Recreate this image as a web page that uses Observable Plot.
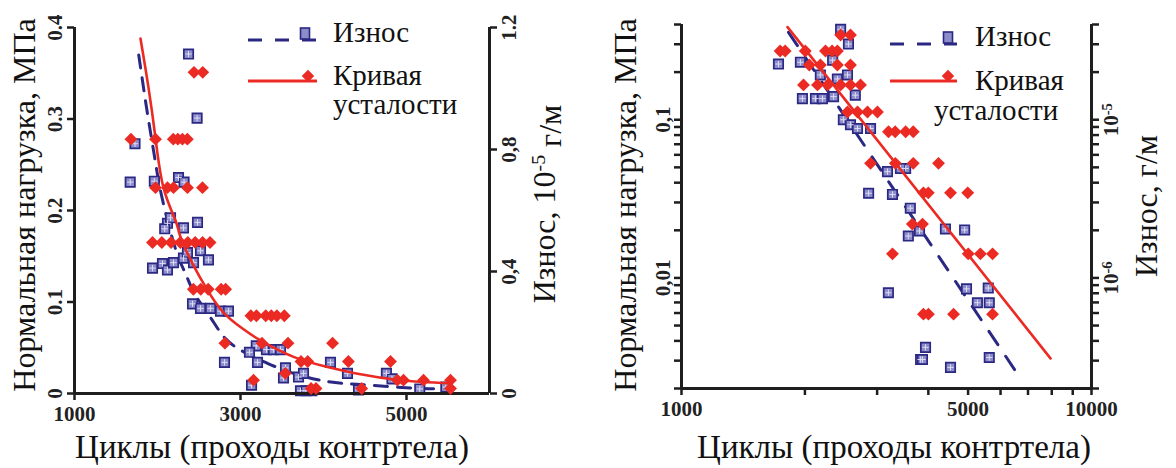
<!DOCTYPE html>
<html>
<head>
<meta charset="utf-8">
<script src="https://cdn.jsdelivr.net/npm/d3@7"></script>
<script src="https://cdn.jsdelivr.net/npm/@observablehq/plot@0.6"></script>
<style>
  html, body { margin: 0; padding: 0; background: #fff; }
  #wrap { position: relative; width: 1176px; height: 468px; overflow: hidden; font-family: "Liberation Serif", "DejaVu Serif", serif; }
  #wrap svg { position: absolute; top: 0; }
  #wrap g[aria-label$="tick label"] { font-family: "Liberation Serif", "DejaVu Serif", serif; font-size: 21px; font-weight: bold; fill: #222; }
  #wrap .leg text { font-family: "Liberation Serif", "DejaVu Serif", serif; fill: #111; }
  #wrap .leg text.lg { font-size: 29px; }
  #wrap .leg text.tt { font-size: 32px; }
  #wrap .leg text.tx { font-size: 33px; }
</style>
</head>
<body>
<div id="wrap"></div>
<script>
// ---------- texts ----------
const xTitle = "Циклы (проходы контртела)";
const yTitleLoad = "Нормальная нагрузка, МПа";
const yTitleWear1 = ["Износ, 10", "-5", " г/м"];   // "Износ, 10^-5 г/м"
const yTitleWear2 = "Износ, г/м";
const legendWear = "Износ";
const legendFatigue = ["Кривая", "усталости"];

// ---------- left panel (linear) ----------
const xDomain1 = [1000, 6000];
const xTicks1 = [1000, 3000, 5000];
const xTickLabels1 = ["1000", "3000", "5000"];
const yDomain1 = [0, 0.4];
const yTicks1 = [0, 0.1, 0.2, 0.3, 0.4];
const yTickLabels1 = ["0", "0.1", "0.2", "0.3", "0.4"];
const wDomain1 = [0, 1.2];
const wTicks1 = [0, 0.4, 0.8, 1.2];
const wTickLabels1 = ["0", "0,4", "0,8", "1.2"];

// fatigue points [cycles, MPa]
const fatigue1 = [
  [1680,0.278],[1976,0.278],[2190,0.278],[2245,0.278],[2300,0.278],[2360,0.278],
  [2440,0.351],[2545,0.351],
  [1976,0.225],[2120,0.225],[2193,0.225],[2361,0.225],[2542,0.225],
  [1940,0.165],[2052,0.165],[2163,0.165],[2275,0.165],[2365,0.165],[2454,0.165],[2543,0.165],[2633,0.165],
  [2432,0.114],[2521,0.114],[2611,0.114],[2767,0.114],[2821,0.114],
  [3125,0.085],[3192,0.085],[3304,0.085],[3371,0.085],[3438,0.085],[3528,0.085],
  [2812,0.055],[3259,0.055],[3572,0.055],[4109,0.055],
  [3540,0.022],[3157,0.0146],
  [3729,0.035],[3810,0.035],[4300,0.035],[4807,0.035],
  [3850,0.0055],[3910,0.0055],[4460,0.0055],[5530,0.0055],
  [4890,0.0146],[4964,0.0146],[5205,0.0146],[5530,0.0146]
];
// fatigue curve [cycles, MPa]
const fatigueCurve1 = [
  [1795,0.388],[1892,0.334],[1976,0.279],[2072,0.225],[2217,0.189],[2277,0.171],
  [2422,0.142],[2602,0.113],[2795,0.0885],[3024,0.071],[3241,0.058],[3639,0.040],
  [4048,0.029],[4446,0.021],[4928,0.0145],[5530,0.011]
];
// wear points [cycles, 10^-5 g/m]
const wear1 = [
  [1671,0.693],[1729,0.819],[2374,1.113],[2477,0.903],
  [1940,0.411],[2060,0.426],[2120,0.405],[2193,0.429],
  [2120,0.558],[2157,0.576],[2087,0.540],[2313,0.543],[2482,0.561],
  [2253,0.708],[2320,0.693],[1962,0.696],
  [2313,0.444],[2361,0.462],[2434,0.429],[2518,0.468],[2614,0.438],
  [2422,0.294],[2518,0.279],[2639,0.279],[2759,0.270],[2855,0.270],
  [2807,0.102],[3133,0.027],[3205,0.102],[3190,0.156],[3108,0.135],
  [3313,0.144],[3398,0.144],[3482,0.144],
  [3542,0.084],[3518,0.051],[3699,0.054],[3759,0.066],
  [3723,0.009],[3790,0.009],[3860,0.009],
  [4084,0.102],[4289,0.066],[4422,0.012],[4758,0.066],[4825,0.048],
  [5160,0.015],[5474,0.021]
];
// wear trend [cycles, 10^-5 g/m]
const wearTrend1 = [
  [1774,1.11],[1872,0.93],[1962,0.78],[2052,0.645],[2217,0.474],[2337,0.393],
  [2454,0.324],[2639,0.249],[2819,0.18],[3050,0.135],[3325,0.099],[3639,0.066],
  [4048,0.039],[4400,0.03],[4800,0.0225],[5200,0.0165],[5496,0.015]
];

// ---------- right panel (log-log) ----------
const xDomain2 = [1000, 10000];
const xTicks2 = [1000,2000,3000,4000,5000,6000,7000,8000,9000,10000];
const xTickLabels2 = ["1000","","","","5000","","","","","10000"];
const yDomain2 = [0.002, 0.4];
const yTicks2 = [0.002,0.003,0.004,0.005,0.006,0.007,0.008,0.009,0.01,0.02,0.03,0.04,0.05,0.06,0.07,0.08,0.09,0.1,0.2,0.3,0.4];
const yTickLabels2 = ["","","","","","","","","0,01","","","","","","","","","0,1","","",""];
const wDomain2 = [2e-7, 4e-5];
const wTicks2 = [2e-7,3e-7,4e-7,5e-7,6e-7,7e-7,8e-7,9e-7,1e-6,2e-6,3e-6,4e-6,5e-6,6e-6,7e-6,8e-6,9e-6,1e-5,2e-5,3e-5,4e-5];
const wTickLabels2 = ["","","","","","","","","10^-6","","","","","","","","","10^-5","","",""];

// fatigue points [cycles, MPa]
const fatigue2 = [
  [1740,0.272],[1790,0.272],[2004,0.272],[2245,0.272],[2330,0.272],[2400,0.272],
  [2444,0.343],[2583,0.343],
  [2050,0.222],[2182,0.222],[2400,0.222],[2583,0.222],
  [1984,0.166],[2146,0.166],[2272,0.166],[2444,0.166],[2583,0.166],[2733,0.166],
  [2540,0.112],[2687,0.112],[2842,0.112],[3005,0.112],
  [3198,0.084],[3320,0.084],[3521,0.084],[3675,0.084],
  [2891,0.053],[3323,0.053],[3675,0.053],[4235,0.053],
  [3891,0.0345],[3999,0.0345],[4530,0.0345],[4990,0.0345],
  [3656,0.0219],[3871,0.0219],
  [3270,0.0142],[5004,0.0142],[5358,0.0142],[5736,0.0142],
  [3891,0.0059],[4002,0.0059],[4608,0.0059],[5736,0.0059]
];
const fatigueLine2 = [[1814,0.385],[7943,0.0031]];
// wear points [cycles, g/m]
const wear2 = [
  [1724,2.25e-5],[1950,2.31e-5],[1972,1.36e-5],[2122,1.36e-5],[2181,1.92e-5],[2207,1.36e-5],
  [2337,2.38e-5],[2349,1.40e-5],[2400,1.81e-5],[2540,1.92e-5],[2444,3.73e-5],[2554,3.01e-5],
  [2654,1.43e-5],[2482,1.0e-5],[2583,9.3e-6],[2687,8.8e-6],[2891,8.8e-6],
  [2860,3.43e-6],[3270,3.37e-6],[3521,4.92e-6],[3420,4.92e-6],[3180,4.7e-6],[3615,2.76e-6],
  [3806,1.98e-6],[3575,1.84e-6],[4403,2.04e-6],[4904,2.01e-6],
  [3196,8.06e-7],[4956,8.53e-7],[5269,6.97e-7],[5600,8.63e-7],[5632,6.97e-7],
  [3937,3.64e-7],[3830,3.05e-7],[3870,3.05e-7],[4530,2.72e-7],[5632,3.14e-7]
];
const wearLine2 = [[1824,3.57e-5],[6637,2.42e-7]];

// ---------- styles ----------
const RED = "#ec2a24", NAVY = "#2b2883", SQFILL = "#8d8ccb", AX = "#1e1e1e";
const baseStyle = {background: "transparent", overflow: "visible", fontFamily: "Liberation Serif"};
const X = d => d[0], Y = d => d[1];
const lab = (ticks, labels) => { const m = new Map(ticks.map((t, i) => [t, labels[i]])); return d => m.get(d) ?? ""; };
const squares = data => [
  Plot.dot(data, {x: X, y: Y, symbol: "square", r: 5.3, fill: SQFILL, stroke: NAVY, strokeWidth: 1.7}),
  Plot.dot(data, {x: X, y: Y, symbol: "plus", r: 2.2, stroke: "#dcdcf3", strokeWidth: 1})
];
const diamonds = data => Plot.dot(data, {x: X, y: Y, symbol: "diamond2", r: 5.8, fill: RED});

const wrap = document.getElementById("wrap");
function place(svg, left) { svg.style.left = left + "px"; svg.style.top = "0px"; wrap.appendChild(svg); }

// ===== LEFT PANEL =====
const L = {width: 580, height: 468, marginLeft: 74, marginRight: 91, marginTop: 27, marginBottom: 75};

const p1w = Plot.plot({
  ...L, style: baseStyle,
  x: {domain: xDomain1, axis: null},
  y: {domain: wDomain1},
  marks: [
    Plot.axisY({anchor: "right", ticks: wTicks1, tickFormat: lab(wTicks1, wTickLabels1), tickRotate: -90, lineAnchor: "top",
      tickSize: 7, tickPadding: 5, strokeWidth: 2.5, stroke: AX, label: null}),
    Plot.ruleX([xDomain1[1]], {stroke: AX, strokeWidth: 3}),
    Plot.line(wearTrend1, {x: X, y: Y, stroke: NAVY, strokeWidth: 3, strokeDasharray: "13 10", curve: "natural"}),
    ...squares(wear1)
  ]
});
place(p1w, 0);

const p1 = Plot.plot({
  ...L, style: baseStyle,
  x: {domain: xDomain1},
  y: {domain: yDomain1},
  marks: [
    Plot.axisX({ticks: xTicks1, tickFormat: lab(xTicks1, xTickLabels1), tickSize: 7, tickPadding: 6, strokeWidth: 2.5, stroke: AX, label: null}),
    Plot.axisY({ticks: yTicks1, tickFormat: lab(yTicks1, yTickLabels1), tickRotate: -90, lineAnchor: "bottom",
      tickSize: 7, tickPadding: 6, strokeWidth: 2.5, stroke: AX, label: null}),
    Plot.ruleX([xDomain1[0]], {stroke: AX, strokeWidth: 3}),
    Plot.ruleY([yDomain1[0]], {stroke: AX, strokeWidth: 3}),
    Plot.line(fatigueCurve1, {x: X, y: Y, stroke: RED, strokeWidth: 2.6, curve: "natural"}),
    diamonds(fatigue1)
  ]
});
place(p1, 0);

// ===== RIGHT PANEL =====
const R = {width: 596, height: 468, marginLeft: 101, marginRight: 85, marginTop: 24, marginBottom: 80};

const p2w = Plot.plot({
  ...R, style: baseStyle,
  x: {type: "log", domain: xDomain2, axis: null},
  y: {type: "log", domain: wDomain2},
  marks: [
    Plot.axisY({anchor: "right", ticks: wTicks2, tickFormat: lab(wTicks2, wTickLabels2), tickRotate: -90, lineAnchor: "top",
      tickSize: 7, tickPadding: 5, strokeWidth: 2.5, stroke: AX, label: null}),
    Plot.ruleX([xDomain2[1]], {stroke: AX, strokeWidth: 3}),
    Plot.line(wearLine2, {x: X, y: Y, stroke: NAVY, strokeWidth: 3, strokeDasharray: "16 14"}),
    ...squares(wear2)
  ]
});
place(p2w, 580);
// turn "10^-6" tick labels into 10 with a superscript exponent
d3.select(p2w).selectAll('g[aria-label$="tick label"] text').each(function() {
  const t = this.textContent;
  if (!t.includes("^")) return;
  const [base, exp] = t.split("^");
  const s = d3.select(this).text(null);
  s.append("tspan").text(base);
  s.append("tspan").attr("dy", "-0.45em").attr("font-size", "70%").text(exp);
});

const p2 = Plot.plot({
  ...R, style: baseStyle,
  x: {type: "log", domain: xDomain2},
  y: {type: "log", domain: yDomain2},
  marks: [
    Plot.axisX({ticks: xTicks2, tickFormat: lab(xTicks2, xTickLabels2), tickSize: 7, tickPadding: 6, strokeWidth: 2.5, stroke: AX, label: null}),
    Plot.axisY({ticks: yTicks2, tickFormat: lab(yTicks2, yTickLabels2), tickRotate: -90, lineAnchor: "bottom",
      tickSize: 7, tickPadding: 5, strokeWidth: 2.5, stroke: AX, label: null}),
    Plot.ruleX([xDomain2[0]], {stroke: AX, strokeWidth: 3}),
    Plot.ruleY([yDomain2[0]], {stroke: AX, strokeWidth: 3}),
    Plot.line(fatigueLine2, {x: X, y: Y, stroke: RED, strokeWidth: 2.6}),
    diamonds(fatigue2)
  ]
});
place(p2, 580);

// ===== TITLES & LEGENDS =====
const leg = d3.select(wrap).append("svg").attr("class", "leg")
  .attr("width", 1176).attr("height", 468).style("left", "0px").style("top", "0px");

function vtitle(x, y) {
  return leg.append("text").attr("class", "tt").attr("text-anchor", "middle")
    .attr("transform", `translate(${x},${y}) rotate(-90)`);
}
leg.append("text").attr("class", "tx").attr("text-anchor", "middle").attr("x", 272).attr("y", 458).text(xTitle);
leg.append("text").attr("class", "tx").attr("text-anchor", "middle").attr("x", 894).attr("y", 458).text(xTitle);
vtitle(35, 205).text(yTitleLoad);
vtitle(636, 205).text(yTitleLoad);
vtitle(1157, 206).text(yTitleWear2);
const tw = vtitle(555, 204);
tw.append("tspan").text(yTitleWear1[0]);
tw.append("tspan").attr("dy", "-0.5em").attr("font-size", "62%").text(yTitleWear1[1]);
tw.append("tspan").attr("dy", "0.5em").text(yTitleWear1[2]);

function legend(g, x0, x1, tx, yWear, yFat, sqx, dmx) {
  g.append("line").attr("x1", x0).attr("x2", x1).attr("y1", yWear + 6).attr("y2", yWear + 6)
    .attr("stroke", NAVY).attr("stroke-width", 3).attr("stroke-dasharray", "14 13");
  g.append("rect").attr("x", sqx - 4.5).attr("y", yWear - 6).attr("width", 9).attr("height", 11)
    .attr("fill", SQFILL).attr("stroke", NAVY).attr("stroke-width", 1.6);
  g.append("text").attr("class", "lg").attr("x", tx).attr("y", yWear + 8).text(legendWear);
  g.append("line").attr("x1", x0).attr("x2", x1).attr("y1", yFat + 5).attr("y2", yFat + 5)
    .attr("stroke", RED).attr("stroke-width", 3);
  g.append("path").attr("transform", `translate(${dmx},${yFat})`)
    .attr("d", d3.symbol(d3.symbolDiamond2, Math.PI * 5.6 * 5.6)()).attr("fill", RED);
}
const g1 = leg.append("g");
legend(g1, 248, 317, 333, 34, 76, 305, 308);
g1.append("text").attr("class", "lg").attr("x", 333).attr("y", 85).text(legendFatigue[0]);
g1.append("text").attr("class", "lg").attr("x", 333).attr("y", 114).text(legendFatigue[1]);
const g2 = leg.append("g");
legend(g2, 890, 957, 975, 38, 76, 948, 948);
g2.append("text").attr("class", "lg").attr("x", 975).attr("y", 90).text(legendFatigue[0]);
g2.append("text").attr("class", "lg").attr("x", 934).attr("y", 120).text(legendFatigue[1]);
</script>
</body>
</html>
